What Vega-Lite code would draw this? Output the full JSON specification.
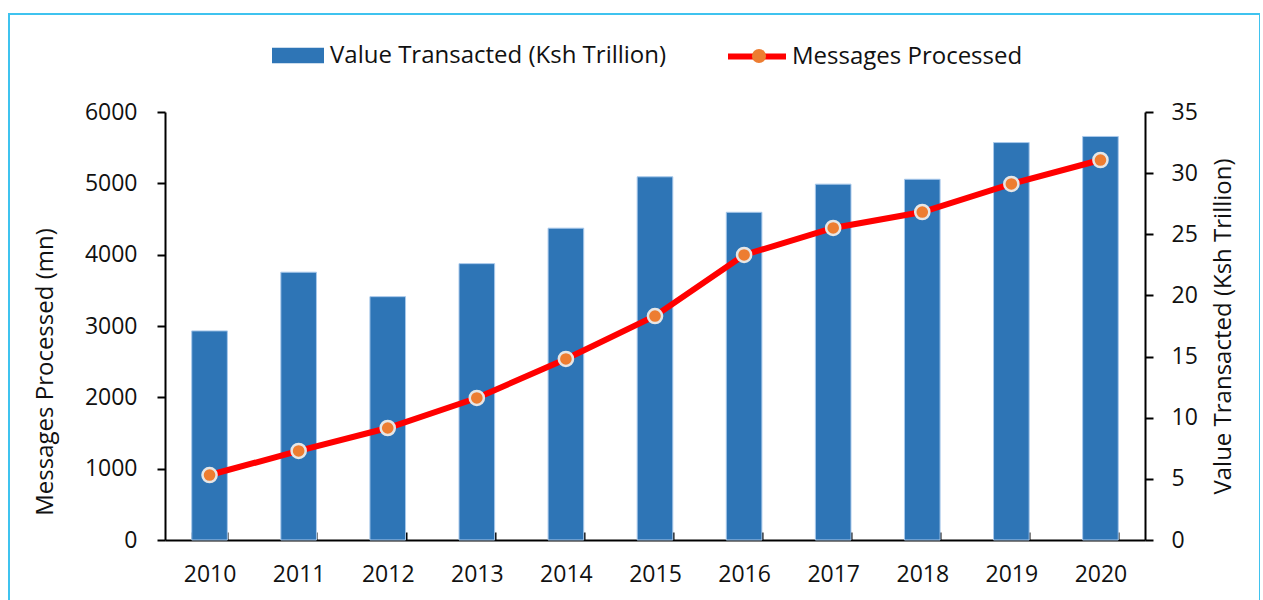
{
  "$schema": "https://vega.github.io/schema/vega-lite/v6.json",
  "width": 1251,
  "height": 600,
  "autosize": "none",
  "padding": {"left": 9, "top": 14, "right": 0, "bottom": 0},
  "background": "white",
  "config": {
    "font": "Open Sans",
    "view": {"stroke": "#3fc3ef", "strokeWidth": 2},
    "axis": {
      "grid": false,
      "domainColor": "#000000",
      "domainWidth": 2,
      "tickColor": "#000000",
      "tickWidth": 2,
      "tickSize": 8,
      "labelFont": "Open Sans",
      "labelFontSize": 23,
      "labelColor": "#111111",
      "titleFont": "Open Sans",
      "titleFontSize": 24,
      "titleFontWeight": "normal",
      "titleColor": "#111111"
    },
    "legend": {
      "labelFont": "Open Sans",
      "labelFontSize": 24,
      "labelColor": "#111111",
      "labelLimit": 600,
      "padding": 0,
      "title": null
    }
  },
  "data": {
    "values": [
      {"year": "2010", "messages": 911, "value": 17.1},
      {"year": "2011", "messages": 1248, "value": 21.9},
      {"year": "2012", "messages": 1570, "value": 19.9},
      {"year": "2013", "messages": 1991, "value": 22.6},
      {"year": "2014", "messages": 2538, "value": 25.5},
      {"year": "2015", "messages": 3140, "value": 29.7},
      {"year": "2016", "messages": 3996, "value": 26.8},
      {"year": "2017", "messages": 4374, "value": 29.1},
      {"year": "2018", "messages": 4598, "value": 29.5},
      {"year": "2019", "messages": 4991, "value": 32.5},
      {"year": "2020", "messages": 5327, "value": 33.0}
    ]
  },
  "encoding": {
    "x": {
      "field": "year",
      "type": "ordinal",
      "scale": {"range": [156, 1136], "paddingInner": 0.6, "paddingOuter": 0.3},
      "axis": {
        "title": null,
        "orient": "bottom",
        "offset": -74,
        "labelAngle": 0,
        "tickBand": "extent",
        "tickSize": -8,
        "labelPadding": 31
      }
    }
  },
  "layer": [
    {
      "mark": {"type": "bar", "stroke": "#a9c9eb", "strokeWidth": 1},
      "encoding": {
        "y": {
          "field": "value",
          "type": "quantitative",
          "scale": {"domain": [0, 35], "range": [526, 98], "nice": false},
          "axis": {
            "orient": "right",
            "offset": -115,
            "values": [0, 5, 10, 15, 20, 25, 30, 35],
            "title": "Value Transacted (Ksh Trillion)",
            "titleAngle": -90,
            "titleBaseline": "top",
            "labelPadding": 18,
            "titlePadding": 14
          }
        },
        "fill": {
          "datum": "Value Transacted (Ksh Trillion)",
          "type": "nominal",
          "scale": {"range": ["#2e75b6"]},
          "legend": {
            "orient": "none",
            "legendX": 263,
            "legendY": 15.5,
            "symbolType": "M-1,-0.3H1V0.3H-1Z",
            "symbolSize": 2704,
            "symbolStrokeWidth": 0,
            "labelOffset": 6
          }
        }
      }
    },
    {
      "encoding": {
        "y": {
          "field": "messages",
          "type": "quantitative",
          "scale": {"domain": [0, 6000], "range": [526, 98], "nice": false},
          "axis": {
            "orient": "left",
            "offset": -156,
            "values": [0, 1000, 2000, 3000, 4000, 5000, 6000],
            "format": "d",
            "title": "Messages Processed (mn)",
            "titleY": 357.5,
            "labelPadding": 20,
            "titlePadding": 27
          }
        }
      },
      "layer": [
        {
          "mark": {"type": "line", "strokeWidth": 6},
          "encoding": {
            "stroke": {
              "datum": "Messages Processed",
              "type": "nominal",
              "scale": {"range": ["#ff0000"]},
              "legend": {
                "orient": "none",
                "legendX": 716,
                "legendY": 10.5,
                "symbolType": "stroke",
                "symbolSize": 3364,
                "symbolStrokeWidth": 6,
                "labelOffset": 3
              }
            }
          }
        },
        {
          "mark": {"type": "point", "filled": true, "fill": "#ed7d31", "stroke": "#e6e6e6", "strokeWidth": 2.5, "size": 200, "opacity": 1},
          "encoding": {
            "shape": {
              "datum": "Messages Processed marker",
              "type": "nominal",
              "scale": {"range": ["circle"]},
              "legend": {
                "orient": "none",
                "legendX": 738,
                "legendY": 30,
                "symbolSize": 200,
                "symbolFillColor": "#ed7d31",
                "symbolStrokeColor": "#e6e6e6",
                "symbolStrokeWidth": 2.5,
                "labelExpr": "''"
              }
            }
          }
        }
      ]
    }
  ],
  "resolve": {"scale": {"y": "independent"}}
}
